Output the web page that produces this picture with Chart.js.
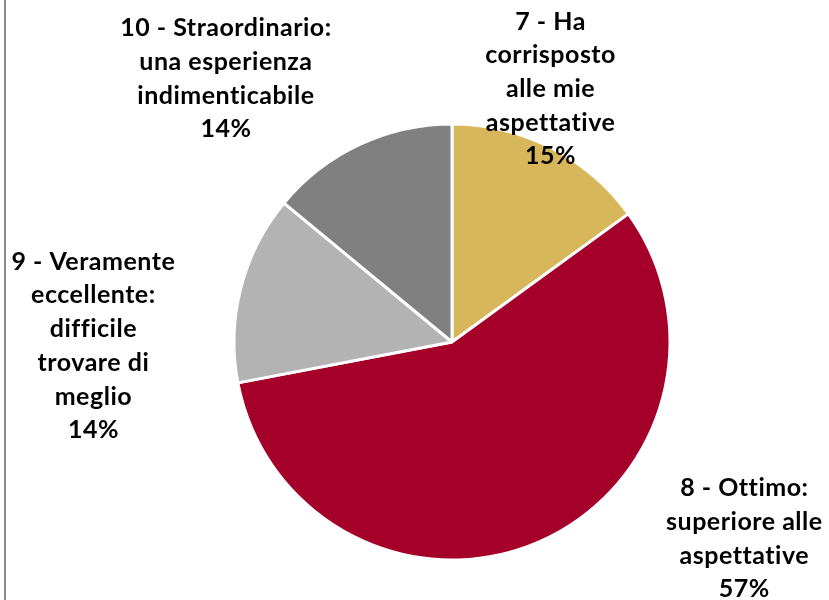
<!DOCTYPE html>
<html>
<head>
<meta charset="utf-8">
<script src="https://cdn.jsdelivr.net/npm/chart.js@4/dist/chart.umd.min.js"></script>
<style>
  html, body { margin: 0; padding: 0; background: #ffffff; }
  #wrap { position: relative; width: 829px; height: 600px; }
  #edge { position: absolute; left: 4px; top: 0; width: 2px; height: 600px; background: #8a8a8a; }
  canvas { position: absolute; left: 0; top: 0; }
</style>
</head>
<body>
<div id="wrap">
  <canvas id="c" width="829" height="600"></canvas>
  <div id="edge"></div>
</div>
<script>
// Data
const categories = [
  ["7 - Ha", "corrisposto", "alle mie", "aspettative"],
  ["8 - Ottimo:", "superiore alle", "aspettative"],
  ["9 - Veramente", "eccellente:", "difficile", "trovare di", "meglio"],
  ["10 - Straordinario:", "una esperienza", "indimenticabile"]
];
const percentages = [15, 57, 14, 14];
const sliceColors = ["#D8B65A", "#A5002A", "#B3B3B3", "#808080"];
// label anchor offsets relative to pie centre, in units of pie radius
const labelOffsets = [[0.452, -1.161], [1.341, 0.903], [-1.645, 0.018], [-1.037, -1.207]];

const labelPlugin = {
  id: 'outsideLabels',
  afterDatasetsDraw(chart, args, opts) {
    const ctx = chart.ctx;
    const meta = chart.getDatasetMeta(0);
    ctx.save();
    ctx.font = opts.font;
    if ('letterSpacing' in ctx) ctx.letterSpacing = opts.letterSpacing;
    ctx.fillStyle = '#000000';
    ctx.textAlign = 'center';
    ctx.textBaseline = 'middle';
    meta.data.forEach((arc, i) => {
      const lines = categories[i].concat([percentages[i] + '%']);
      const r = arc.outerRadius;
      const cx = arc.x + labelOffsets[i][0] * r;
      const cy = arc.y + labelOffsets[i][1] * r;
      const lh = opts.lineHeight;
      const top = cy - (lines.length - 1) * lh / 2;
      lines.forEach((t, k) => ctx.fillText(t, cx, top + k * lh));
    });
    ctx.restore();
  }
};

new Chart(document.getElementById('c'), {
  type: 'pie',
  data: {
    labels: categories.map(c => c.join(' ')),
    datasets: [{
      data: percentages,
      backgroundColor: sliceColors,
      borderColor: '#ffffff',
      borderWidth: 3
    }]
  },
  options: {
    responsive: false,
    animation: false,
    radius: 218,
    layout: { padding: { left: 75, right: 0, top: 84, bottom: 0 } },
    plugins: {
      legend: { display: false },
      tooltip: { enabled: false },
      outsideLabels: { font: 'bold 25px Lato', lineHeight: 33.7, letterSpacing: '0.5px' }
    }
  },
  plugins: [labelPlugin]
});
</script>
</body>
</html>
